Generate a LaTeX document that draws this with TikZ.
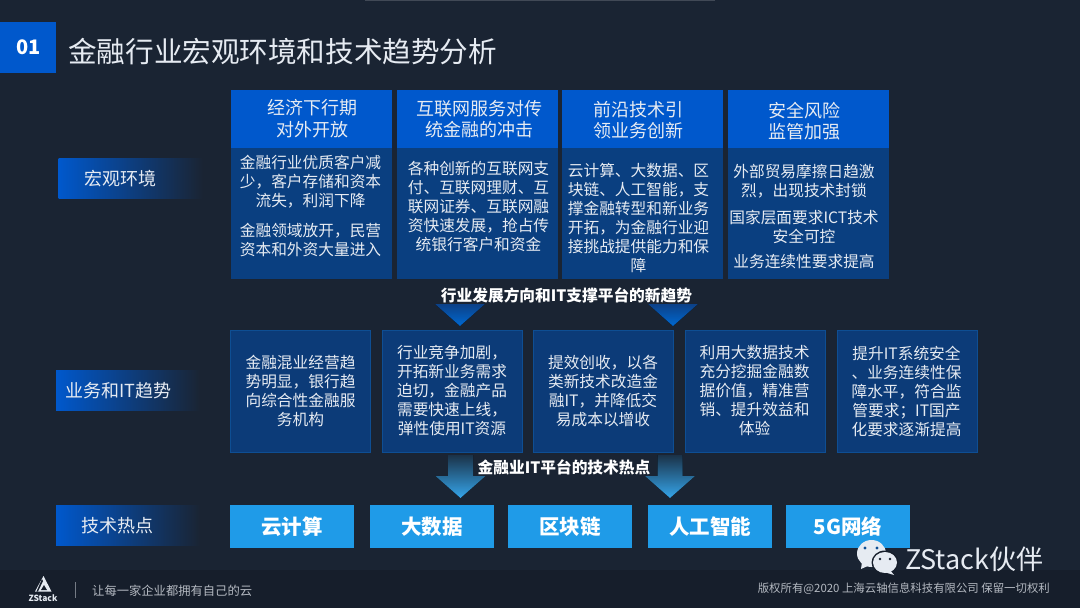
\documentclass[tikz,border=0pt]{standalone}
\usepackage{fontspec}
\setmainfont{Noto Sans CJK SC}
\usepackage{xcolor}
\usetikzlibrary{positioning,calc}

\definecolor{bgdark}{HTML}{1A2433}
\definecolor{footdark}{HTML}{161E2B}
\definecolor{headblue}{HTML}{0058CC}
\definecolor{bodyblue}{HTML}{0A3F80}
\definecolor{trendblue}{HTML}{0C3B78}
\definecolor{trendedge}{HTML}{0E4E93}
\definecolor{techblue}{HTML}{1F9BE8}
\definecolor{softwhite}{HTML}{E6EBF2}
\definecolor{footgrey}{HTML}{B4B9C1}

\tikzset{
    headbox/.style={anchor=north west, fill=headblue, inner sep=0pt, minimum width=161pt, minimum height=58pt},
    bodybox/.style={anchor=north west, fill=bodyblue, inner sep=0pt, minimum width=161pt, minimum height=131pt},
    trendbox/.style={anchor=north west, fill=trendblue, draw=trendedge, line width=0.7pt, inner sep=0pt,
        minimum width=140pt, minimum height=122pt},
    techbox/.style={anchor=north west, fill=techblue, text=white, inner sep=0pt,
        minimum width=124pt, minimum height=43pt, font=\fontsize{20.5}{24}\bfseries\selectfont},
    rowlabel/.style={anchor=north west, left color=headblue, right color=bgdark, text=softwhite, inner sep=0pt,
        text width=144pt, align=left, minimum height=40pt, font=\fontsize{18}{21}\selectfont},
    headtext/.style={text=softwhite, inner sep=0pt, align=center, font=\fontsize{18}{21.5}\selectfont},
    bodytext/.style={text=softwhite, inner sep=0pt, align=center, font=\fontsize{15.7}{19}\selectfont},
    banner/.style={text=white, inner sep=0pt, font=\fontsize{15.7}{18}\bfseries\selectfont}
}

\begin{document}
\begin{tikzpicture}[x=1pt, y=-1pt]
    \useasboundingbox (0, 0) rectangle (1080, 608);

    % Background and footer
    \fill[bgdark] (0, 0) rectangle (1080, 608);
    \fill[footdark] (0, 570) rectangle (1080, 608);
    \fill[footgrey!25!bgdark] (365, 0) rectangle (715, 1);

    % Title
    \node[fill=headblue, text=white, inner sep=0pt, minimum width=56pt, minimum height=51pt, anchor=north west,
        font=\fontsize{20}{24}\bfseries\selectfont] (badge) at (0, 22) {01};
    \node[text=softwhite, inner sep=0pt, anchor=west, font=\fontsize{28.6}{32}\selectfont] (title) at (68, 52)
        {金融行业宏观环境和技术趋势分析};

    % Row labels
    \node[rowlabel] (macro) at (58.5, 158.5) {\hspace{25.5pt}宏观环境};
    \node[rowlabel] (trend) at (56, 370.5) {\hspace{9pt}业务和IT趋势};
    \node[rowlabel] (hot) at (56, 505) {\hspace{25pt}技术热点};

    % Top row, boxes
    \node[headbox] (headA) at (231, 90) {};
    \node[headbox] (headB) at (396.5, 90) {};
    \node[headbox] (headC) at (562, 90) {};
    \node[headbox] (headD) at (728, 90) {};
    \node[bodybox] (bodyA) at (231, 148) {};
    \node[bodybox] (bodyB) at (396.5, 148) {};
    \node[bodybox] (bodyC) at (562, 148) {};
    \node[bodybox] (bodyD) at (728, 148) {};

    % Top row, texts
    \node[headtext] (headtextA) at (312, 118.5) {经济下行期\\对外开放};
    \node[headtext] (headtextB) at (479, 119) {互联网服务对传\\统金融的冲击};
    \node[headtext] (headtextC) at (638, 120) {前沿技术引\\领业务创新};
    \node[headtext] (headtextD) at (804.5, 121) {安全风险\\监管加强};
    \node[bodytext] (bodytextA) at (310.5, 205.5) {金融行业优质客户减\\少，客户存储和资本\\流失，利润下降\\[11pt]金融领域放开，民营\\资本和外资大量进入};
    \node[bodytext] (bodytextB) at (478.5, 207) {各种创新的互联网支\\付、互联网理财、互\\联网证券、互联网融\\资快速发展，抢占传\\统银行客户和资金};
    \node[bodytext] (bodytextC) at (638.5, 218) {云计算、大数据、区\\块链、人工智能，支\\撑金融转型和新业务\\开拓，为金融行业迎\\接挑战提供能力和保\\障};
    \node[bodytext] (bodytextD) at (804, 216.5) {外部贸易摩擦日趋激\\烈，出现技术封锁\\[8pt]国家层面要求ICT技术\\安全可控\\[6pt]业务连续性要求提高};

    % New trend banner and arrows
    \foreach \cx in {460, 673} {
        \fill[top color=headblue!55!bgdark, bottom color=headblue!90!cyan] (\cx-25, 304) -- (\cx+25, 304) -- (\cx, 326) -- cycle;
    }
    \node[banner] (bannerA) at (566.5, 295) {行业发展方向和IT支撑平台的新趋势};

    % Middle row
    \node[trendbox] (trendA) at (230, 330) {};
    \node[trendbox] (trendB) at (382, 330) {};
    \node[trendbox] (trendC) at (533, 330) {};
    \node[trendbox] (trendD) at (685, 330) {};
    \node[trendbox] (trendE) at (837, 330) {};
    \node[bodytext] (trendtextA) at (300.5, 391) {金融混业经营趋\\势明显，银行趋\\向综合性金融服\\务机构};
    \node[bodytext] (trendtextB) at (452, 391) {行业竞争加剧，\\开拓新业务需求\\迫切，金融产品\\需要快速上线，\\弹性使用IT资源};
    \node[bodytext] (trendtextC) at (603, 391) {提效创收，以各\\类新技术改造金\\融IT，并降低交\\易成本以增收};
    \node[bodytext] (trendtextD) at (754.5, 391) {利用大数据技术\\充分挖掘金融数\\据价值，精准营\\销、提升效益和\\体验};
    \node[bodytext] (trendtextE) at (906.5, 391) {提升IT系统安全\\、业务连续性保\\障水平，符合监\\管要求；IT国产\\化要求逐渐提高};

    % Hot spot arrows and banner
    \foreach \cx in {460.5, 670} {
        \fill[top color=bgdark!88!techblue, bottom color=techblue!90!white] (\cx-12.5, 455) -- (\cx+12.5, 455) -- (\cx+12.5, 476)
            -- (\cx+25, 476) -- (\cx, 498) -- (\cx-25, 476) -- (\cx-12.5, 476) -- cycle;
    }
    \node[banner] (bannerB) at (564, 467) {金融业IT平台的技术热点};

    % Bottom row
    \node[techbox] (techA) at (230, 505) {云计算};
    \node[techbox] (techB) at (370, 505) {大数据};
    \node[techbox] (techC) at (508, 505) {区块链};
    \node[techbox] (techD) at (648, 505) {人工智能};
    \node[techbox] (techE) at (786, 505) {5G网络};

    % Footer left
    \fill[softwhite] (43.5, 576) -- (51.5, 591.5) -- (35, 591.5) -- cycle;
    \fill[footdark] (42, 579) -- (43, 581) -- (38, 591.5) -- (36.5, 591.5) -- cycle;
    \fill[footdark] (44, 585) -- (47, 590) -- (41, 590) -- cycle;
    \node[text=softwhite, inner sep=0pt, font=\fontsize{8.5}{10}\bfseries\selectfont] (logo) at (43, 598) {ZStack};
    \draw[footgrey!60!footdark, line width=0.6pt] (75.5, 582) -- (75.5, 598);
    \node[text=footgrey, inner sep=0pt, anchor=west, font=\fontsize{12.3}{14}\selectfont] (slogan) at (92, 590.5) {让每一家企业都拥有自己的云};

    % Footer right
    \node[text=footgrey, inner sep=0pt, anchor=east, font=\fontsize{11.4}{14}\selectfont] (rights) at (1050, 589) {版权所有@2020 上海云轴信息科技有限公司 保留一切权利};

    % Watermark
    \fill[softwhite] (871.5, 553.5) ellipse (14.5 and 13.5);
    \fill[softwhite] (862, 562) -- (861, 569) -- (870, 565) -- cycle;
    \fill[footdark] (885, 562.5) ellipse (13.5 and 12);
    \fill[softwhite] (885, 562.5) ellipse (12 and 10.5);
    \fill[softwhite] (890, 570) -- (894, 575) -- (884, 572) -- cycle;
    \foreach \ex/\ey/\er/\ec in {865/548/1.6/trendedge, 877/548/1.6/trendedge, 880/559/1.3/bgdark, 890/559/1.3/bgdark} {
        \fill[\ec] (\ex, \ey) circle (\er);
    }
    \node[text=softwhite, inner sep=0pt, anchor=west, font=\fontsize{27}{30}\selectfont] (mark) at (905, 559) {ZStack伙伴};
\end{tikzpicture}
\end{document}
